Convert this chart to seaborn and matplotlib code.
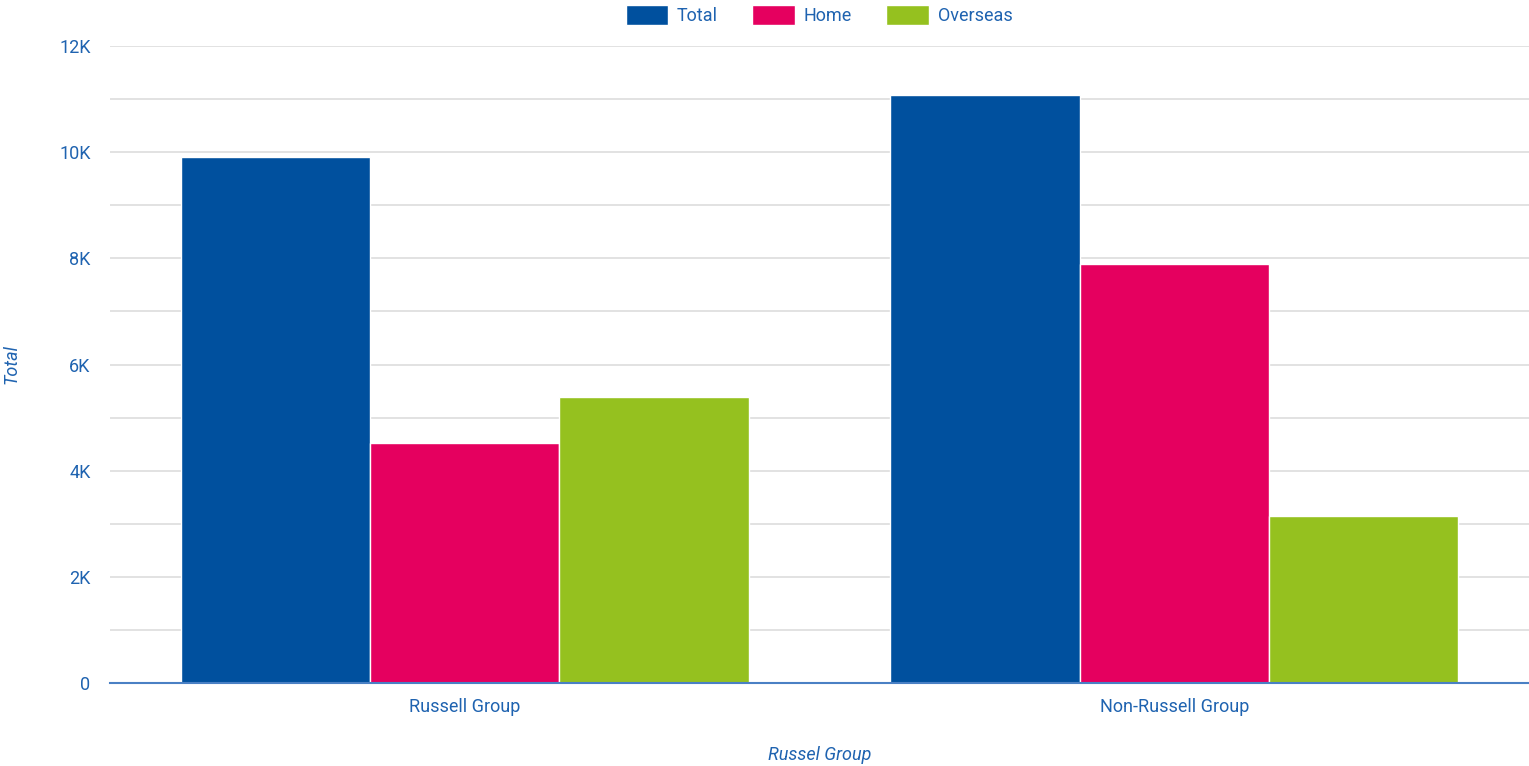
import matplotlib
matplotlib.use("Agg")
import matplotlib.pyplot as plt
import seaborn as sns
import pandas as pd
from matplotlib.patches import Patch
from matplotlib.ticker import FuncFormatter, MultipleLocator

categories = ["Russell Group", "Non-Russell Group"]
series = ["Total", "Home", "Overseas"]
total = [9915, 11070]
home = [4520, 7890]
overseas = [5385, 3150]
colors = ["#00509e", "#e5005f", "#95c11f"]
text_color = "#1f63b0"

df = pd.DataFrame({
    "group": categories * 3,
    "series": [s for s in series for _ in categories],
    "value": total + home + overseas,
})

sns.set_theme(style="white")
plt.rcParams["font.family"] = ["Roboto", "DejaVu Sans"]

fig = plt.figure(figsize=(15.29, 7.66), dpi=100)
ax = fig.add_axes([110 / 1529, 1 - 683 / 766, 1 - 110 / 1529, (683 - 46) / 766])

sns.barplot(data=df, x="group", y="value", hue="series", order=categories,
            hue_order=series, palette=colors, width=0.8, saturation=1,
            edgecolor="white", linewidth=1, ax=ax, legend=False, zorder=3)

ax.set_xlim(-0.5, 1.5)
ax.set_ylim(0, 12000)
ax.yaxis.set_major_locator(MultipleLocator(2000))
ax.yaxis.set_minor_locator(MultipleLocator(1000))
ax.yaxis.set_major_formatter(FuncFormatter(lambda v, p: "0" if v == 0 else f"{int(v/1000)}K"))
ax.grid(axis="y", which="both", color="#dddddd", linewidth=1.2, zorder=0)
ax.set_axisbelow(True)
for s in ["top", "right", "left"]:
    ax.spines[s].set_visible(False)
ax.spines["bottom"].set_color("#4a80c4")
ax.spines["bottom"].set_linewidth(1.5)
ax.spines["bottom"].set_zorder(5)

ax.tick_params(axis="y", which="both", length=0, pad=14, labelsize=13, labelcolor=text_color)
ax.tick_params(axis="x", length=0, pad=11, labelsize=13, labelcolor=text_color)

ax.set_xlabel("Russel Group", fontsize=13, style="italic", color=text_color)
ax.xaxis.set_label_coords(0.5, -0.113)
ax.xaxis.label.set_va("center")
ax.set_ylabel("Total", fontsize=13, style="italic", color=text_color)
ax.yaxis.set_label_coords(-0.063, 0.5)

handles = [Patch(facecolor=c, edgecolor="white", label=s) for s, c in zip(series, colors)]
fig.legend(handles=handles, loc="center", bbox_to_anchor=(0.5357, 0.98), ncol=3,
           frameon=False, fontsize=13, labelcolor=text_color, handlelength=2.35,
           handleheight=1.3, handletextpad=0.5, columnspacing=1.9)

fig.savefig("out.png", dpi=100)
